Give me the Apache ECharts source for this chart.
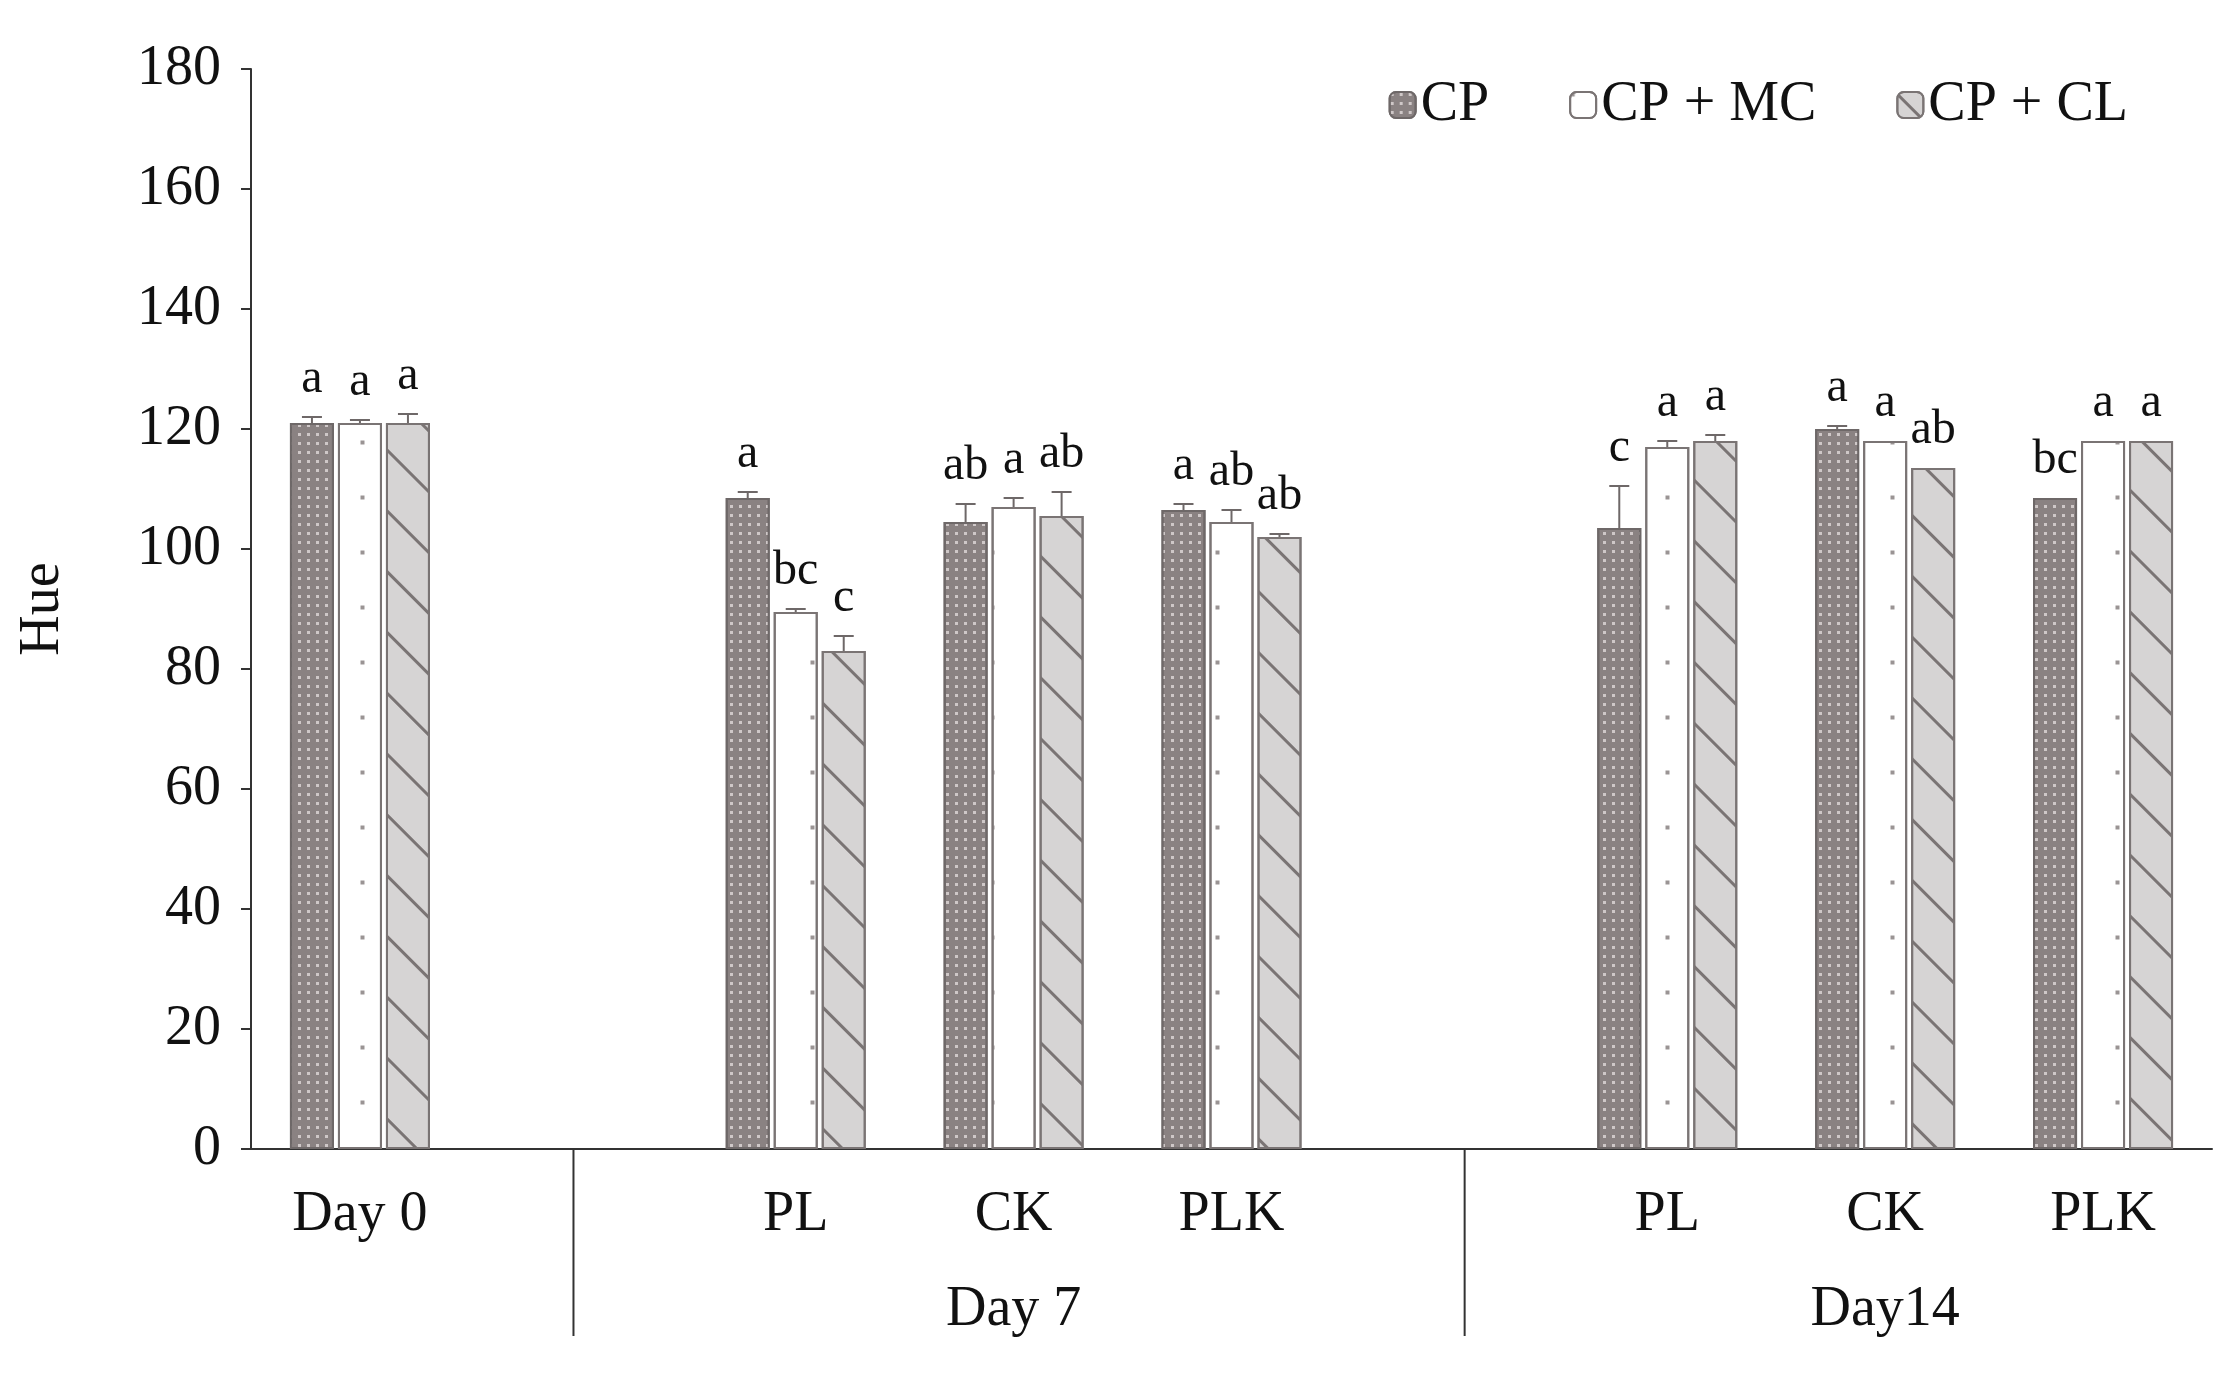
<!DOCTYPE html>
<html>
<head>
<meta charset="utf-8">
<title>Hue</title>
<style>
  html, body { margin: 0; padding: 0; background: #fff; }
  #chart { width: 2233px; height: 1393px; }
</style>
</head>
<body>
<div id="chart"></div>
<script src="https://cdn.jsdelivr.net/npm/echarts@6/dist/echarts.min.js"></script>
<script>
// slots: Day 0, (gap), PL, CK, PLK (Day 7), (gap), PL, CK, PLK (Day14)
var categories = ['Day 0', '', 'PL', 'CK', 'PLK', '', 'PL', 'CK', 'PLK']
var groupLabels = [{ slot: 3, text: 'Day 7' }, { slot: 7, text: 'Day14' }]
var separatorSlots = [0.98, 5.07]
var seriesNames = ['CP', 'CP + MC', 'CP + CL']

var cpValues = [121, null, 108.5, 104.5, 106.5, null, 103.5, 120, 108.5]
var mcValues = [121, null, 89.5, 107, 104.5, null, 117, 118, 118]
var clValues = [121, null, 83, 105.5, 102, null, 118, 113.5, 118]

var cpErrors = [1, null, 1, 3, 1, null, 7, 0.5, 0]
var mcErrors = [0.5, null, 0.5, 1.5, 2, null, 1, 0, 0]
var clErrors = [1.5, null, 2.5, 4, 0.5, null, 1, 0, 0]

var cpLetters = ['a', '', 'a', 'ab', 'a', '', 'c', 'a', 'bc']
var mcLetters = ['a', '', 'bc', 'a', 'ab', '', 'a', 'a', 'a']
var clLetters = ['a', '', 'c', 'ab', 'ab', '', 'a', 'ab', 'a']

var yTicks = [0, 20, 40, 60, 80, 100, 120, 140, 160, 180]

var font = 'Liberation Serif'
var gridLeft = 251, gridRight = 21, gridTop = 69, gridBottom = 244
var chartW = 2233, chartH = 1393
var barW = 44, barStep = 48

var styles = [
  { color: '#8a8282', border: '#6e6868',
    decal: { symbol: 'rect', symbolSize: 0.6, color: '#cfc8c8', dashArrayX: [[5, 4]], dashArrayY: [5, 4], rotation: 0 } },
  { color: '#ffffff', border: '#7a7474',
    decal: { symbol: 'rect', symbolSize: 0.8, color: '#9a9494', dashArrayX: [[5, 40]], dashArrayY: [5, 50], rotation: 0 } },
  { color: '#d6d4d4', border: '#7a7474',
    decal: { symbol: 'rect', symbolSize: 1, color: '#7a7474', dashArrayX: [[1, 0]], dashArrayY: [3, 40], rotation: Math.PI / 4 } }
]

var values = [cpValues, mcValues, clValues]
var errors = [cpErrors, mcErrors, clErrors]
var letters = [cpLetters, mcLetters, clLetters]

var series = []
values.forEach(function (vals, s) {
  series.push({
    name: seriesNames[s],
    type: 'bar',
    data: vals,
    barWidth: barW,
    barGap: ((barStep - barW) / barW * 100) + '%',
    itemStyle: { color: styles[s].color, borderColor: styles[s].border, borderWidth: 2, decal: styles[s].decal },
    z: 2
  })
})
values.forEach(function (vals, s) {
  var data = []
  vals.forEach(function (v, i) {
    if (v != null) data.push([i, v, errors[s][i], letters[s][i]])
  })
  series.push({
    type: 'custom',
    silent: true,
    z: 5,
    data: data,
    renderItem: function (params, api) {
      var off = (s - 1) * barStep
      var top = api.coord([api.value(0), api.value(1) + api.value(2)])
      var bot = api.coord([api.value(0), api.value(1)])
      var x = top[0] + off
      var children = []
      if (api.value(2) > 0) {
        children.push({ type: 'line', shape: { x1: x, y1: bot[1], x2: x, y2: top[1] }, style: { stroke: '#6e6868', lineWidth: 2 } })
        children.push({ type: 'line', shape: { x1: x - 10, y1: top[1], x2: x + 10, y2: top[1] }, style: { stroke: '#6e6868', lineWidth: 2 } })
      }
      children.push({ type: 'text', style: { text: data[params.dataIndex][3], x: x, y: top[1] - 14, align: 'center', verticalAlign: 'bottom', font: '48px "' + font + '"', fill: '#111' } })
      return { type: 'group', children: children }
    }
  })
})

var chart = echarts.init(document.getElementById('chart'))
var plotW = chartW - gridLeft - gridRight
function slotX(k) { return gridLeft + (k + 0.5) * plotW / categories.length }

var graphics = []
separatorSlots.forEach(function (k) {
  graphics.push({ type: 'line', shape: { x1: slotX(k), y1: chartH - gridBottom, x2: slotX(k), y2: 1336 }, style: { stroke: '#333', lineWidth: 2 } })
})
groupLabels.forEach(function (g) {
  graphics.push({ type: 'text', x: slotX(g.slot), y: 1310, style: { text: g.text, align: 'center', verticalAlign: 'middle', font: '56px "' + font + '"', fill: '#111' } })
})

chart.setOption({
  animation: false,
  textStyle: { fontFamily: font },
  grid: { left: gridLeft, right: gridRight, top: gridTop, bottom: gridBottom },
  legend: {
    data: seriesNames,
    right: 100, top: 72,
    itemWidth: 26, itemHeight: 26, itemGap: 80,
    textStyle: { fontSize: 56, fontFamily: font, color: '#111' }
  },
  xAxis: {
    type: 'category',
    data: categories,
    axisLine: { lineStyle: { color: '#333', width: 2 } },
    axisTick: { show: false },
    axisLabel: { fontSize: 56, color: '#111', margin: 38, interval: 0 }
  },
  yAxis: {
    type: 'value',
    min: yTicks[0], max: yTicks[yTicks.length - 1], interval: 20,
    name: 'Hue', nameLocation: 'middle', nameGap: 180,
    nameTextStyle: { fontSize: 56, color: '#111', fontFamily: font },
    splitLine: { show: false },
    axisLine: { show: true, lineStyle: { color: '#333', width: 2 } },
    axisTick: { show: true, inside: false, length: 10, lineStyle: { color: '#333', width: 2 } },
    axisLabel: { fontSize: 56, color: '#111', margin: 30 }
  },
  graphic: graphics,
  series: series
})
</script>
</body>
</html>
